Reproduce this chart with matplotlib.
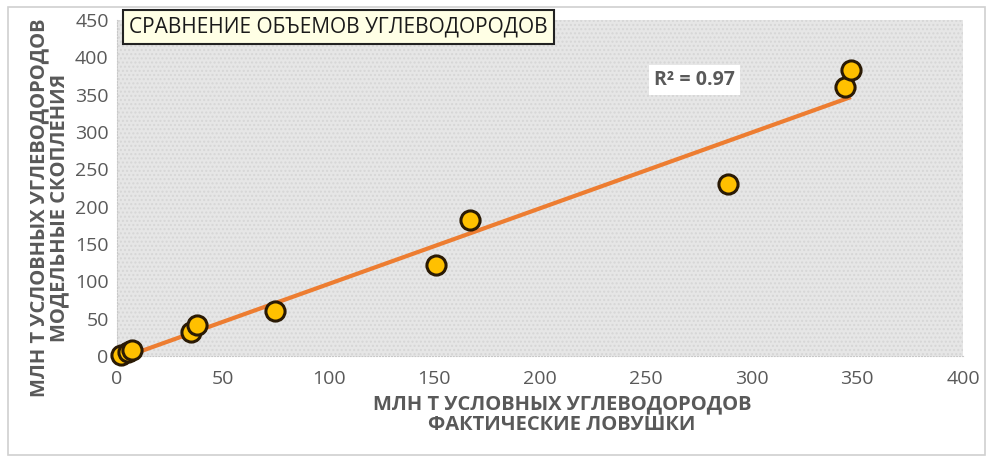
import numpy as np
import matplotlib
matplotlib.use("Agg")
import matplotlib.pyplot as plt
from matplotlib.patches import Rectangle

# Data
actual_traps = [2, 5, 7, 34.8, 37.6, 74.8, 151, 167, 289, 344, 347]
model_accum = [1, 5, 8, 32, 41.5, 60, 122, 182, 230, 360, 383]
x_ticks = [0, 50, 100, 150, 200, 250, 300, 350, 400]
y_ticks = [0, 50, 100, 150, 200, 250, 300, 350, 400, 450]
title = "СРАВНЕНИЕ ОБЪЕМОВ УГЛЕВОДОРОДОВ"
x_label = "МЛН Т УСЛОВНЫХ УГЛЕВОДОРОДОВ\nФАКТИЧЕСКИЕ ЛОВУШКИ"
y_label = "МЛН Т УСЛОВНЫХ УГЛЕВОДОРОДОВ\nМОДЕЛЬНЫЕ СКОПЛЕНИЯ"
r2_text = "R² = 0.97"

plt.rcParams['font.family'] = ['Open Sans', 'DejaVu Sans']

fig = plt.figure(figsize=(10.01, 4.62), dpi=100)
fig.patches.append(Rectangle((8/1001, 7/462), 977/1001, 448/462, transform=fig.transFigure,
                             fill=False, edgecolor='#d0d0d0', linewidth=1.2))

ax = fig.add_axes([117/1001, (462-356)/462, (963-117)/1001, (356-20)/462])
ax.set_facecolor('#e6e6e6')
ax.add_patch(Rectangle((0, 0), 1, 1, transform=ax.transAxes, facecolor='none',
                       edgecolor='#d6d6d6', hatch='....', linewidth=0, zorder=0))
ax.set_xlim(0, 400)
ax.set_ylim(0, 450)
ax.set_xticks(x_ticks)
ax.set_yticks(y_ticks)
for s in ax.spines.values():
    s.set_visible(False)
for k in ('left', 'bottom'):
    ax.spines[k].set_visible(True)
    ax.spines[k].set_color('#c8c8c8')
    ax.spines[k].set_linestyle(':')
ax.tick_params(length=0, labelsize=14, colors='#595959')
ax.tick_params(axis='x', pad=10)
ax.tick_params(axis='y', pad=6)

# trend line (least squares fit)
a, b = np.polyfit(actual_traps, model_accum, 1)
xs = np.array([min(actual_traps), max(actual_traps)])
ax.plot(xs, a * xs + b, color='#ED7D31', linewidth=3, zorder=3, solid_capstyle='butt')

ax.scatter(actual_traps, model_accum, s=190, color='#FFC000', edgecolor='#2a1a05',
           linewidth=2.2, zorder=4, clip_on=False)

ax.set_xlabel(x_label, fontsize=14.5, fontweight='bold', color='#595959', linespacing=1.05)
ax.xaxis.set_label_coords(0.526, -0.115)
ax.set_ylabel(y_label, fontsize=14.5, fontweight='bold', color='#595959', linespacing=1.05)
ax.yaxis.set_label_coords(-0.056, 0.44)

ax.text(254, 370, r2_text, fontsize=14, fontweight='bold', color='#595959', ha='left', va='center',
        bbox=dict(boxstyle='square,pad=0.25', facecolor='white', edgecolor='none'), zorder=5)

fig.text(129/1001, (462-27)/462, title, fontsize=15, color='#1a1a1a', ha='left', va='center',
         bbox=dict(boxstyle='square,pad=0.3', facecolor='#FFFFE5', edgecolor='#222222', linewidth=1.5))

fig.savefig('out.png', dpi=100)
